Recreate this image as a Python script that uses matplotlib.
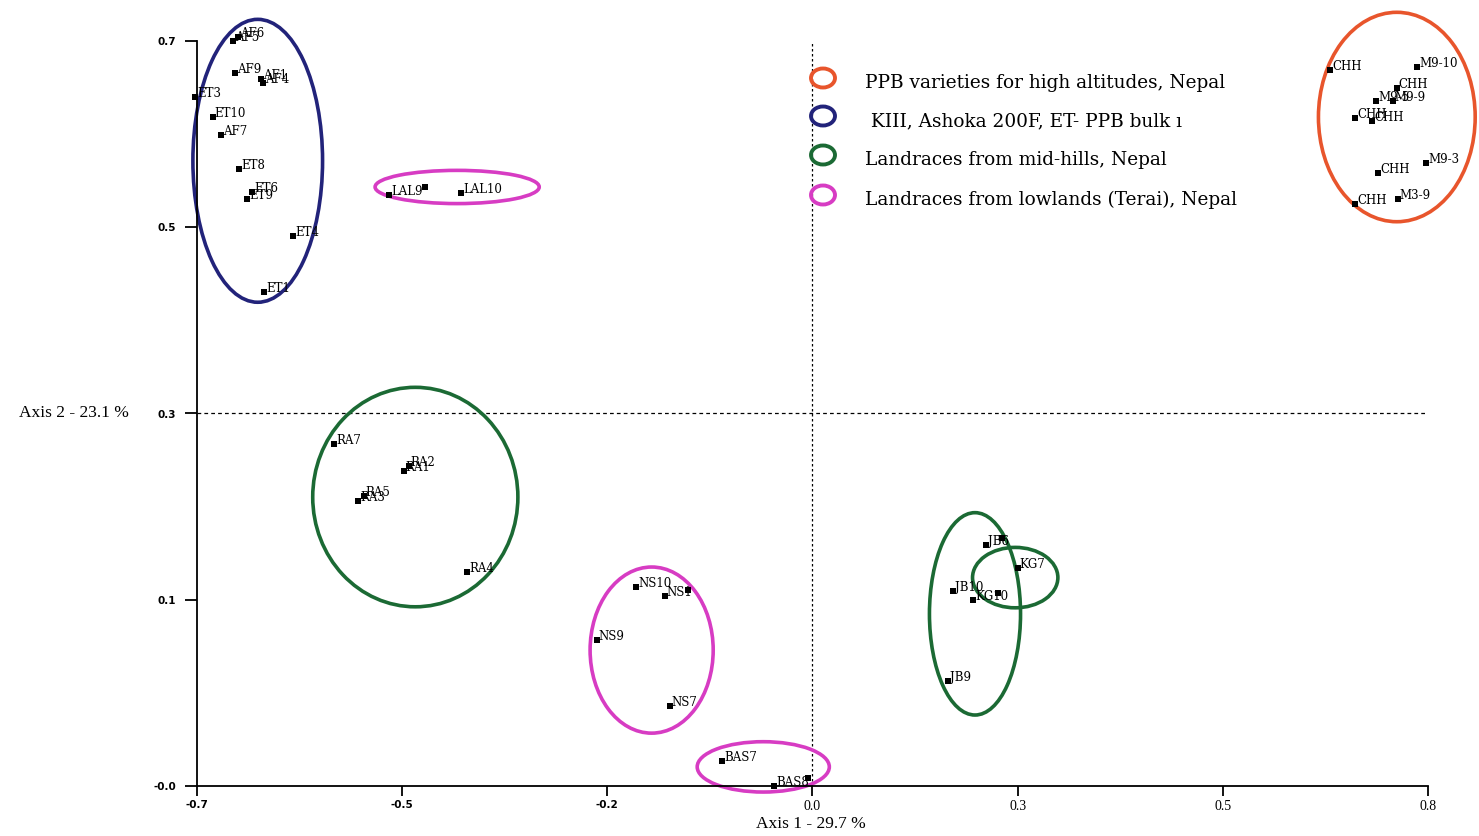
import matplotlib
matplotlib.use("Agg")
import matplotlib.pyplot as plt
from matplotlib.patches import Ellipse

# Principal coordinates of the barley entries (Axis 1, Axis 2)
labels = [
    # KIII, Ashoka 200F, ET - PPB bulk
    "AF5", "AF6", "AF9", "AF1", "AF4", "ET3", "ET10", "AF7", "ET8", "ET6", "ET9", "ET4", "ET1",
    # lowland landraces
    "LAL9", "", "LAL10",
    "NS10", "NS1", "", "NS9", "NS7",
    "BAS7", "BAS8", "",
    # mid-hill landraces
    "RA7", "RA1", "RA2", "RA3", "RA5", "RA4",
    "JB6", "", "KG7", "JB10", "KG10", "", "JB9",
    # high-altitude PPB varieties
    "CHH", "M9-10", "CHH", "M9-5", "M9-9", "CHH", "CHH", "M9-3", "CHH", "CHH", "M3-9",
]
axis1 = [
    -0.656, -0.650, -0.654, -0.622, -0.620, -0.702, -0.681, -0.671, -0.649, -0.633, -0.639, -0.583, -0.618,
    -0.466, -0.422, -0.378,
    -0.165, -0.130, -0.102, -0.213, -0.124,
    -0.060, 0.003, 0.045,
    -0.533, -0.448, -0.442, -0.504, -0.497, -0.371,
    0.261, 0.281, 0.300, 0.221, 0.246, 0.276, 0.215,
    0.681, 0.787, 0.762, 0.737, 0.757, 0.711, 0.732, 0.798, 0.739, 0.711, 0.763,
]
axis2 = [
    0.700, 0.704, 0.668, 0.662, 0.658, 0.644, 0.625, 0.607, 0.573, 0.550, 0.543, 0.506, 0.451,
    0.547, 0.555, 0.549,
    0.158, 0.149, 0.155, 0.105, 0.039,
    -0.015, -0.040, -0.032,
    0.300, 0.273, 0.278, 0.243, 0.248, 0.173,
    0.199, 0.206, 0.177, 0.154, 0.145, 0.152, 0.064,
    0.671, 0.674, 0.653, 0.640, 0.640, 0.624, 0.621, 0.579, 0.569, 0.538, 0.543,
]

# Group outlines: centre x, centre y, width, height, colour
orange = "#e8552c"
navy = "#22237a"
green = "#1b6a34"
magenta = "#d73cc3"
ell_cx = [0.762, -0.626, -0.434, 0.248, 0.297, -0.383, -0.146, -0.010]
ell_cy = [0.6245, 0.581, 0.247, 0.131, 0.167, 0.555, 0.095, -0.021]
ell_w = [0.191, 0.158, 0.250, 0.111, 0.104, 0.200, 0.150, 0.161]
ell_h = [0.208, 0.281, 0.218, 0.201, 0.060, 0.033, 0.165, 0.050]
ell_col = [orange, navy, green, green, green, magenta, magenta, magenta]

legend_labels = [
    "PPB varieties for high altitudes, Nepal",
    " KIII, Ashoka 200F, ET- PPB bulk ı",
    "Landraces from mid-hills, Nepal",
    "Landraces from lowlands (Terai), Nepal",
]
legend_colors = [orange, navy, green, magenta]

x_ticks = [-0.7, -0.45, -0.2, 0.05, 0.3, 0.55, 0.8]
x_ticklabels = ["-0.7", "-0.5", "-0.2", "0.0", "0.3", "0.5", "0.8"]
y_ticks = [-0.04, 0.145, 0.33, 0.515, 0.7]
y_ticklabels = ["-0.0", "0.1", "0.3", "0.5", "0.7"]

W, H = 1479, 836
fig = plt.figure(figsize=(W / 100, H / 100), dpi=100)
ax = fig.add_axes([197 / W, 50 / H, (1428 - 197) / W, (786 - 41) / H])
ax.set_xlim(-0.7, 0.8)
ax.set_ylim(-0.04, 0.7)

for s in ("top", "right"):
    ax.spines[s].set_visible(False)
for s in ("left", "bottom"):
    ax.spines[s].set_linewidth(1.3)

ax.set_xticks(x_ticks)
ax.set_xticklabels(x_ticklabels)
ax.set_yticks(y_ticks)
ax.set_yticklabels(y_ticklabels)
ax.tick_params(axis="x", length=7, width=1.3, pad=3)
ax.tick_params(axis="y", length=9, width=1.3, pad=6)
for i, t in enumerate(ax.get_xticklabels()):
    if i < 3:
        t.set_fontfamily("DejaVu Sans")
        t.set_fontweight("bold")
        t.set_fontsize(7.5)
    else:
        t.set_fontfamily("Liberation Serif")
        t.set_fontsize(10)
for t in ax.get_yticklabels():
    t.set_fontfamily("DejaVu Sans")
    t.set_fontweight("bold")
    t.set_fontsize(7.5)

# Reference cross through the centre of the plane
ax.axhline(0.33, color="black", lw=0.9, ls=(0, (3, 2.5)), zorder=1)
ax.axvline(0.05, color="black", lw=0.9, ls=(0, (2, 2)), zorder=1)

for cx, cy, w, h, c in zip(ell_cx, ell_cy, ell_w, ell_h, ell_col):
    ax.add_patch(Ellipse((cx, cy), w, h, fill=False, edgecolor=c, lw=2.6,
                         clip_on=False, zorder=2))

for name, x, y in zip(labels, axis1, axis2):
    if name:
        ax.annotate(name, (x, y), xytext=(2, 0), textcoords="offset pixels",
                    ha="left", va="baseline", fontsize=8.5, family="DejaVu Serif",
                    zorder=3, annotation_clip=False)
ax.scatter(axis1, axis2, marker="s", s=20, color="black", linewidths=0,
           clip_on=False, zorder=4)

# Legend drawn with open ellipses
legend_y = [78, 116, 155, 195]
for lab, col, yp in zip(legend_labels, legend_colors, legend_y):
    fig.add_artist(Ellipse((823 / W, 1 - yp / H), 24 / W, 19 / H, fill=False,
                           edgecolor=col, lw=2.8, transform=fig.transFigure))
    fig.text(865 / W, 1 - (yp + 5) / H, lab, ha="left", va="center",
             fontsize=13.3, family="DejaVu Serif")

fig.text(811 / W, 1 - 824 / H, "Axis 1 - 29.7 %", ha="center", va="center",
         fontsize=12.5, family="Liberation Serif")
fig.text(74 / W, 1 - 413 / H, "Axis 2 - 23.1 %", ha="center", va="center",
         fontsize=12.5, family="Liberation Serif")

fig.savefig("out.png", dpi=100)
